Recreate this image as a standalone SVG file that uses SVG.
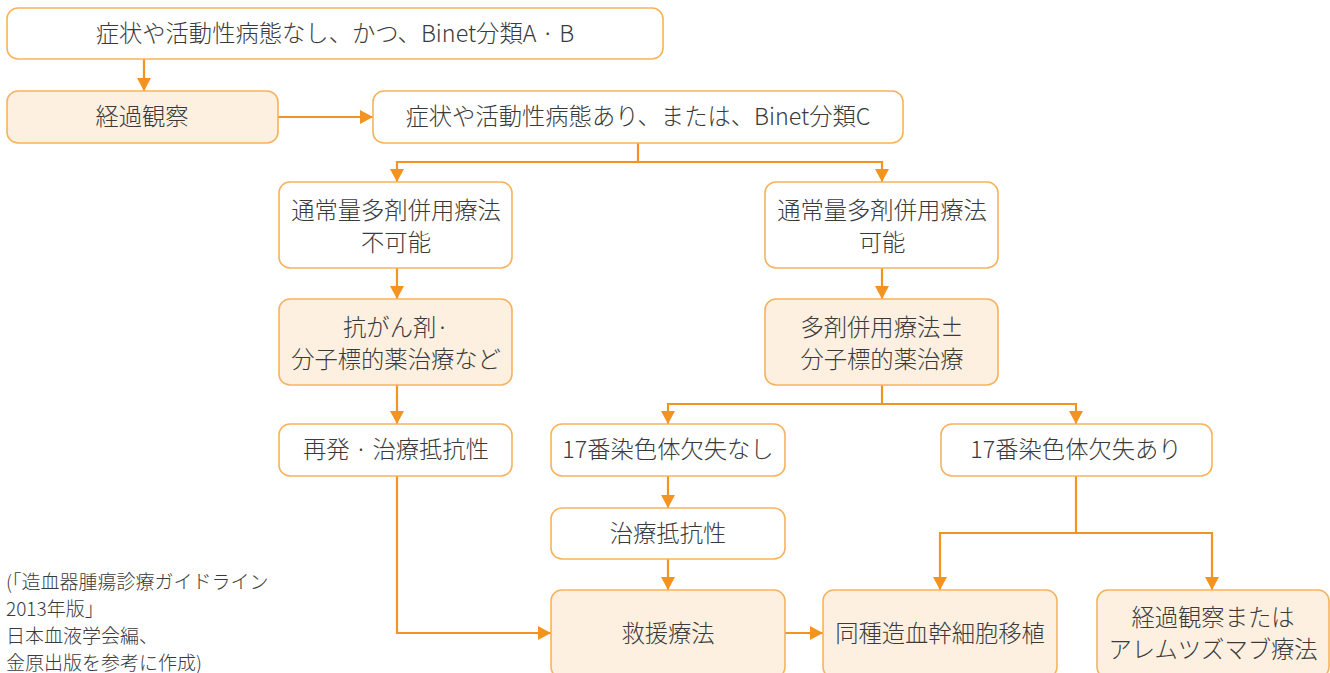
<svg xmlns="http://www.w3.org/2000/svg" width="1330" height="673" viewBox="0 0 1330 673">
<defs>
<style>
.box{fill:#ffffff;stroke:#f7b25c;stroke-width:1.6}
.fill{fill:#fdf0e0;stroke:#f7b25c;stroke-width:1.6}
.t{font-family:"Noto Sans CJK JP","Noto Sans",sans-serif;font-size:23.3px;font-weight:300;fill:#3a3a3a;text-anchor:middle}
.note{font-family:"Noto Sans CJK JP","Noto Sans",sans-serif;font-size:19px;font-weight:300;fill:#3a3a3a}
.c{fill:none;stroke:#f39422;stroke-width:2.2}
</style>
<marker id="ah" markerUnits="userSpaceOnUse" markerWidth="16" markerHeight="16" viewBox="0 0 16 16" refX="14" refY="8" orient="auto">
<path d="M1 1 L14 8 L1 15 Z" fill="#f39422"/>
</marker>
</defs>
<rect width="1330" height="673" fill="#ffffff"/>
<g id="connectors">
<path class="c" d="M144 59 V91" marker-end="url(#ah)"/>
<path class="c" d="M278 117 H373" marker-end="url(#ah)"/>
<path class="c" d="M638 143 V162 H397 V182" marker-end="url(#ah)"/>
<path class="c" d="M638 162 H882 V182" marker-end="url(#ah)"/>
<path class="c" d="M397 268 V299" marker-end="url(#ah)"/>
<path class="c" d="M882 268 V299" marker-end="url(#ah)"/>
<path class="c" d="M397 385 V424" marker-end="url(#ah)"/>
<path class="c" d="M882 385 V404 H668 V424" marker-end="url(#ah)"/>
<path class="c" d="M882 404 H1076 V424" marker-end="url(#ah)"/>
<path class="c" d="M668 476 V508" marker-end="url(#ah)"/>
<path class="c" d="M668 559 V590" marker-end="url(#ah)"/>
<path class="c" d="M397 476 V633 H551" marker-end="url(#ah)"/>
<path class="c" d="M785 633 H823" marker-end="url(#ah)"/>
<path class="c" d="M1076 476 V533 H940 V590" marker-end="url(#ah)"/>
<path class="c" d="M1076 533 H1212 V590" marker-end="url(#ah)"/>
</g>
<g id="n1"><rect class="box" x="7" y="8" width="656" height="51" rx="11"/><text class="t" x="335" y="42">症状や活動性病態なし、かつ、Binet分類A · B</text></g>
<g id="n2"><rect class="fill" x="7" y="91" width="271" height="52" rx="11"/><text class="t" x="142" y="125">経過観察</text></g>
<g id="n3"><rect class="box" x="373" y="91" width="530" height="52" rx="11"/><text class="t" x="638" y="125">症状や活動性病態あり、または、Binet分類C</text></g>
<g id="n4"><rect class="box" x="279" y="182" width="233" height="86" rx="11"/><text class="t" x="396" y="219">通常量多剤併用療法</text><text class="t" x="396" y="251">不可能</text></g>
<g id="n5"><rect class="box" x="765" y="182" width="233" height="86" rx="11"/><text class="t" x="882" y="219">通常量多剤併用療法</text><text class="t" x="882" y="251">可能</text></g>
<g id="n6"><rect class="fill" x="279" y="299" width="233" height="86" rx="11"/><text class="t" x="396" y="336">抗がん剤·</text><text class="t" x="396" y="368">分子標的薬治療など</text></g>
<g id="n7"><rect class="fill" x="765" y="299" width="233" height="86" rx="11"/><text class="t" x="882" y="336">多剤併用療法±</text><text class="t" x="882" y="368">分子標的薬治療</text></g>
<g id="n8"><rect class="box" x="279" y="424" width="233" height="52" rx="11"/><text class="t" x="396" y="458">再発 · 治療抵抗性</text></g>
<g id="n9"><rect class="box" x="551" y="424" width="234" height="52" rx="11"/><text class="t" x="668" y="458">17番染色体欠失なし</text></g>
<g id="n10"><rect class="box" x="941" y="424" width="271" height="52" rx="11"/><text class="t" x="1076" y="458">17番染色体欠失あり</text></g>
<g id="n11"><rect class="box" x="551" y="508" width="234" height="51" rx="11"/><text class="t" x="668" y="542">治療抵抗性</text></g>
<g id="n12"><rect class="fill" x="551" y="590" width="234" height="88" rx="11"/><text class="t" x="668" y="642">救援療法</text></g>
<g id="n13"><rect class="fill" x="823" y="590" width="234" height="88" rx="11"/><text class="t" x="940" y="642">同種造血幹細胞移植</text></g>
<g id="n14"><rect class="fill" x="1097" y="590" width="232" height="88" rx="11"/><text class="t" x="1213" y="626">経過観察または</text><text class="t" x="1213" y="658">アレムツズマブ療法</text></g>
<g id="note">
<text class="note" x="6" y="589">(「造血器腫瘍診療ガイドライン</text>
<text class="note" x="6" y="616">2013年版」</text>
<text class="note" x="6" y="643">日本血液学会編、</text>
<text class="note" x="6" y="670">金原出版を参考に作成)</text>
</g>
</svg>
